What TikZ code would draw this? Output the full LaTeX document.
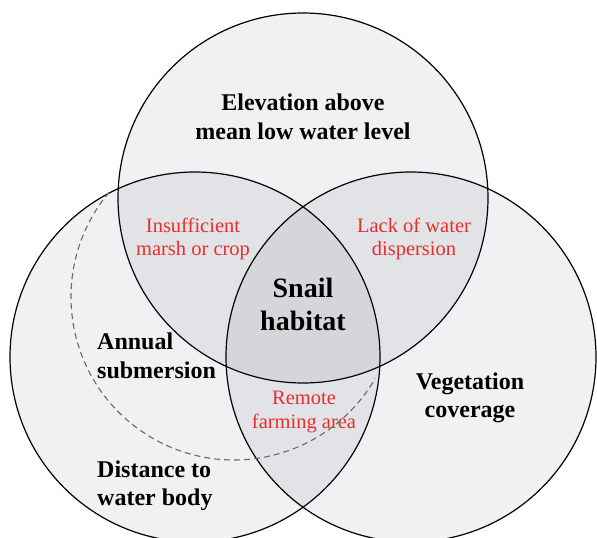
\documentclass[tikz,border=0pt]{standalone}
\usepackage{fontspec}
\setmainfont{Liberation Serif}
\definecolor{venn}{RGB}{40,50,70}
\definecolor{lbl}{RGB}{232,45,45}
\definecolor{dashc}{RGB}{105,105,105}
\tikzset{
  setc/.style={circle, draw=black, line width=1.2pt, minimum size=370pt, inner sep=0pt, fill=venn, fill opacity=0.07, draw opacity=1},
  mainlbl/.style={font=\fontsize{24}{28.5}\selectfont\bfseries, text=black, inner sep=0pt},
  sublbl/.style={font=\fontsize{20.5}{23.5}\selectfont, text=lbl, align=center, inner sep=0pt},
  dashline/.style={draw=dashc, line width=1.1pt, dash pattern=on 6pt off 4pt},
}
\begin{document}
\begin{tikzpicture}[x=1pt,y=-1pt]
\useasboundingbox (0,0) rectangle (597,538);
% circles
\node[setc] (top) at (303,198) {};
\node[setc] (left) at (195,357) {};
\node[setc] (right) at (411,357) {};
% labels
\node[mainlbl, align=center] (elev) at (303,117) {Elevation above\\mean low water level};
\node[sublbl] (insuf) at (193,239) {Insufficient\\marsh or crop};
\node[sublbl] (lack) at (414,239) {Lack of water\\dispersion};
\node[mainlbl, align=center, font=\fontsize{28}{33}\selectfont\bfseries] (snail) at (303,304) {Snail\\habitat};
\node[mainlbl, align=left, anchor=west] (annual) at (97,356) {Annual\\submersion};
\node[mainlbl, align=center] (veg) at (470,398) {Vegetation\\coverage};
\node[sublbl] (remote) at (304,412) {Remote\\farming area};
\node[mainlbl, align=left, anchor=west] (dist) at (97,486) {Distance to\\water body};
% dashed arc
\coordinate (dc) at (234,297);
\draw[dashline] (dc) ++(140:163pt) arc[start angle=140, end angle=330, radius=163pt];
\end{tikzpicture}
\end{document}
